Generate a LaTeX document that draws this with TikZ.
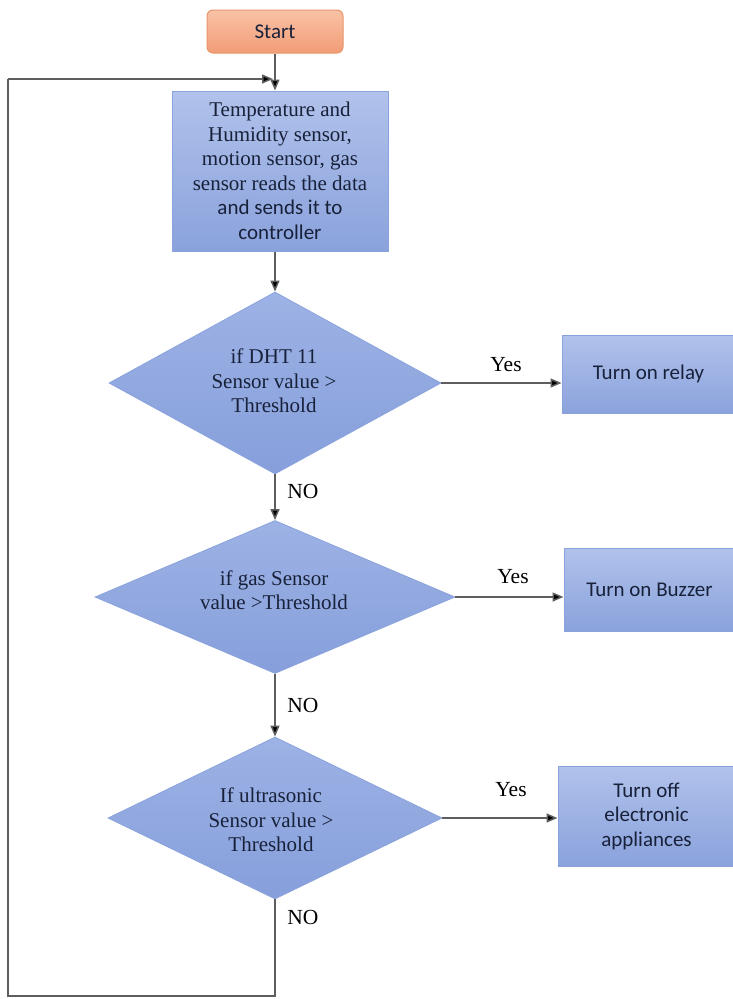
\documentclass[tikz,border=0pt]{standalone}
\usepackage{fontspec}
\setmainfont{Liberation Serif}
\newfontfamily\calib{Carlito}
\usetikzlibrary{shapes.geometric,arrows.meta}

\definecolor{boxtop}{HTML}{B1C2EB}
\definecolor{boxbot}{HTML}{8AA2DC}
\definecolor{boxline}{HTML}{8AA3DC}
\definecolor{diatop}{HTML}{9DB2E5}
\definecolor{diabot}{HTML}{869FDB}
\definecolor{ink}{HTML}{18213A}
\definecolor{starttop}{HTML}{F9C2A6}
\definecolor{startbot}{HTML}{F29C76}
\definecolor{startline}{HTML}{E8956D}
\definecolor{wire}{HTML}{5E5E5E}

\tikzset{
  startbox/.style={rectangle, rounded corners=6pt, draw=startline, line width=1pt,
    top color=starttop, bottom color=startbot, text=ink, inner sep=0pt,
    font=\calib\fontsize{21}{24}\selectfont},
  procbox/.style={rectangle, draw=boxline, line width=1pt,
    top color=boxtop, bottom color=boxbot, text=ink, inner sep=0pt,
    align=center, font=\calib\fontsize{21}{24.5}\selectfont},
  decision/.style={diamond, draw=boxline, line width=0.8pt,
    top color=diatop, bottom color=diabot, inner sep=0pt},
  decisiontext/.style={text=ink, align=center, inner sep=0pt,
    font=\fontsize{21}{24.5}\selectfont},
  flowlabel/.style={text=black, inner sep=0pt, font=\fontsize{21.5}{24}\selectfont},
  wireline/.style={draw=wire, line width=1.5pt},
  arrow/.style={wireline, -{Triangle[length=11pt,width=9pt,fill=black]}},
}

\begin{document}
\begin{tikzpicture}[x=1pt,y=-1pt]
  \useasboundingbox (0,0) rectangle (733,999);
  \clip (0,0) rectangle (733,999);
  \fill[white] (0,0) rectangle (733,999);

  % terminal and sensing step
  \node[startbox, minimum width=136pt, minimum height=43pt] (start) at (275,31.5) {Start};
  \node[procbox, minimum width=216pt, minimum height=160pt] (read) at (280,171)
    {{\rmfamily Temperature and}\\
     {\rmfamily Humidity sensor,}\\
     {\rmfamily motion sensor, gas}\\
     {\rmfamily sensor reads the data}\\
     and sends it to\\
     controller};

  % decisions
  \node[decision, minimum width=332pt, minimum height=182pt] (d1) at (275,383) {};
  \node[decisiontext] (t1) at (274,381) {if DHT 11\\Sensor value >\\Threshold};
  \node[decision, minimum width=360pt, minimum height=153pt] (d2) at (275,597) {};
  \node[decisiontext] (t2) at (274,590) {if gas Sensor\\value >Threshold};
  \node[decision, minimum width=334pt, minimum height=162pt] (d3) at (275,818) {};
  \node[decisiontext] (t3) at (271,820) {If ultrasonic\\Sensor value >\\Threshold};

  % actions
  \node[procbox, minimum width=173pt, minimum height=78pt] (relay) at (648.5,374) {Turn on relay};
  \node[procbox, minimum width=171pt, minimum height=83pt] (buzzer) at (649.5,589.5) {Turn on Buzzer};
  \node[procbox, minimum width=177pt, minimum height=100pt] (off) at (646.5,816)
    {Turn off\\electronic\\appliances};

  % main flow
  \draw[arrow] (start.south) -- (start.south |- read.north);
  \draw[arrow] (d1.north |- read.south) -- (d1.north);
  \draw[arrow] (d1.south) -- (d2.north);
  \draw[arrow] (d2.south) -- (d3.north);

  % yes branches
  \draw[arrow] (d1.east) -- (d1.east -| relay.west);
  \draw[arrow] (d2.east) -- (d2.east -| buzzer.west);
  \draw[arrow] (d3.east) -- (d3.east -| off.west);

  % loop back to the sensing step
  \coordinate (loopB) at (275,996);
  \coordinate (loopBL) at (8,996);
  \coordinate (loopTL) at (8,79);
  \coordinate (loopTR) at (273,79);
  \draw[wireline] (d3.south) -- (loopB) -- (loopBL) -- (loopTL);
  \draw[arrow] (loopTL) -- (loopTR);

  % branch labels
  \node[flowlabel] (y1) at (506,365) {Yes};
  \node[flowlabel] (y2) at (513,577) {Yes};
  \node[flowlabel] (y3) at (511,790) {Yes};
  \node[flowlabel] (n1) at (303,491) {NO};
  \node[flowlabel] (n2) at (303,705) {NO};
  \node[flowlabel] (n3) at (303,917) {NO};
\end{tikzpicture}
\end{document}
